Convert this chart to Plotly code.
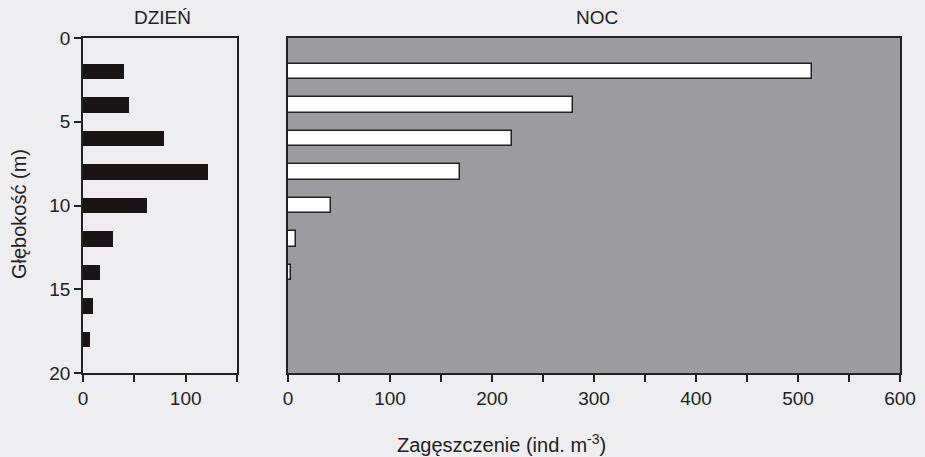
import plotly.graph_objects as go

day_depth = [2, 4, 6, 8, 10, 12, 14, 16, 18]
day_density = [40, 45, 79, 122, 62, 29, 17, 10, 7]
night_depth = [2, 4, 6, 8, 10, 12, 14]
night_density = [514, 279, 220, 169, 42, 8, 3]

W, H = 925, 457
TOP, BOTTOM = 38, 373


def px(x):
    return x / W


def py(y):
    return 1 - y / H


ink = "#222222"
tick_font = dict(family="Liberation Sans, Arial, sans-serif", size=19, color=ink)
title_font = dict(family="Liberation Sans, Arial, sans-serif", size=20, color=ink)

fig = go.Figure()
fig.add_trace(go.Bar(
    x=day_density, y=day_depth, orientation="h", width=0.95,
    marker=dict(color="#1a1414", line=dict(width=0)),
    xaxis="x", yaxis="y", showlegend=False,
))
fig.add_trace(go.Bar(
    x=night_density, y=night_depth, orientation="h", width=0.95,
    marker=dict(color="#ffffff", line=dict(width=1.5, color=ink)),
    xaxis="x2", yaxis="y2", showlegend=False,
))

common = dict(showgrid=False, zeroline=False, showline=True, linecolor=ink,
              linewidth=1.5, mirror=True, automargin=False, tickfont=tick_font,
              tickcolor=ink, tickwidth=1.5)
ticked = dict(ticks="outside", ticklen=7)
minor50 = dict(ticks="outside", ticklen=7, dtick=50, tickcolor=ink, tickwidth=1.5, showgrid=False)

fig.update_layout(
    width=W, height=H,
    margin=dict(l=0, r=0, t=0, b=0),
    paper_bgcolor="#eeeef0",
    plot_bgcolor="#eeeef0",
    font=tick_font,
    bargap=0,
    xaxis=dict(domain=[px(83), px(237)], range=[0, 150], tick0=0, dtick=100,
               minor=minor50, anchor="y", **common, **ticked),
    yaxis=dict(domain=[py(BOTTOM), py(TOP)], range=[20, 0], tick0=0, dtick=5,
               anchor="x", **common, **ticked),
    xaxis2=dict(domain=[px(288), px(900)], range=[0, 600], tick0=0, dtick=100,
                minor=minor50, anchor="y2", **common, **ticked),
    yaxis2=dict(domain=[py(BOTTOM), py(TOP)], range=[20, 0], ticks="",
                showticklabels=False, anchor="x2", **common),
    annotations=[
        dict(text="DZIEŃ", x=px(162), y=py(18), xref="paper", yref="paper",
             showarrow=False, font=tick_font, xanchor="center", yanchor="middle"),
        dict(text="NOC", x=px(597), y=py(18), xref="paper", yref="paper",
             showarrow=False, font=tick_font, xanchor="center", yanchor="middle"),
        dict(text="Zagęszczenie (ind. m<sup>-3</sup>)", x=px(501), y=py(443),
             xref="paper", yref="paper", showarrow=False, font=title_font,
             xanchor="center", yanchor="middle"),
        dict(text="Głębokość (m)", x=px(19), y=py(214), xref="paper", yref="paper",
             showarrow=False, font=title_font, textangle=-90,
             xanchor="center", yanchor="middle"),
    ],
)
fig.add_shape(type="rect", xref="x2 domain", yref="y2 domain", x0=0, x1=1, y0=0, y1=1,
              fillcolor="#9c9ca0", line=dict(width=0), layer="below")

fig.write_html("out.html")
